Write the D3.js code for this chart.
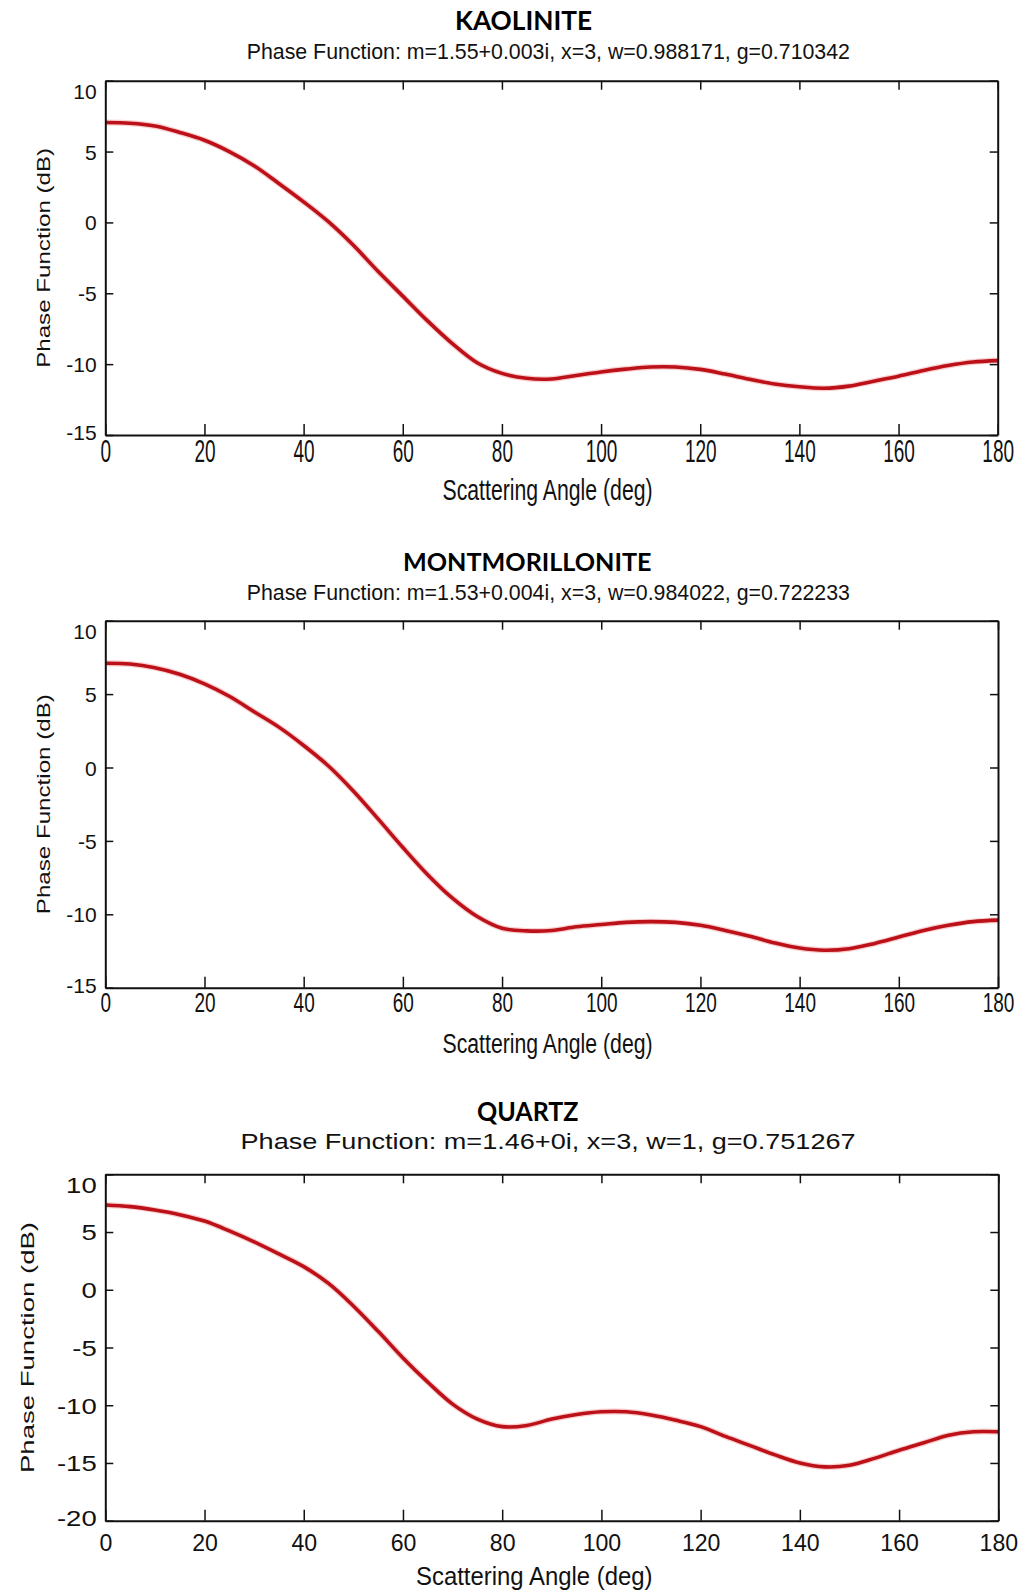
<!doctype html>
<html lang="en">
<head>
<meta charset="utf-8">
<title>Phase Functions</title>
<script src="https://d3js.org/d3.v7.min.js"></script>
<style>
  body { margin: 0; background: #fff; }
  svg { display: block; }
  .axis path, .axis line { stroke: #111; }
  .axis text { fill: #111; font-family: "Liberation Sans", Arial, sans-serif; }
  .lbl { fill: #111; font-family: "Liberation Sans", Arial, sans-serif; }
  .ttl { fill: #000; font-family: Lato, "Open Sans", sans-serif; font-weight: bold; }
</style>
</head>
<body>
<svg id="main" width="1023" height="1591"></svg>
<script>
// scattering angle (deg) sampled every 5 degrees
var angles = [0,5,10,15,20,25,30,35,40,45,50,55,60,65,70,75,80,85,90,95,100,105,110,115,120,125,130,135,140,145,150,155,160,165,170,175,180];

// phase function (dB)
var kaolinite = [7.05,7.0,6.8,6.35,5.8,5.0,4.0,2.75,1.45,0.05,-1.6,-3.45,-5.2,-6.95,-8.55,-9.9,-10.65,-11.0,-11.05,-10.8,-10.55,-10.35,-10.2,-10.2,-10.37,-10.7,-11.07,-11.4,-11.6,-11.7,-11.55,-11.2,-10.85,-10.45,-10.1,-9.85,-9.75];
var montmorillonite = [7.1,7.05,6.8,6.35,5.7,4.85,3.8,2.75,1.5,0.1,-1.6,-3.5,-5.45,-7.3,-8.9,-10.15,-10.95,-11.13,-11.1,-10.85,-10.7,-10.55,-10.5,-10.55,-10.75,-11.1,-11.5,-11.95,-12.3,-12.45,-12.35,-12.0,-11.55,-11.1,-10.75,-10.5,-10.4];
var quartz = [7.34,7.2,6.9,6.5,5.95,5.1,4.15,3.1,2.0,0.55,-1.4,-3.6,-5.9,-8.0,-9.9,-11.2,-11.85,-11.75,-11.2,-10.8,-10.57,-10.57,-10.85,-11.3,-11.85,-12.7,-13.5,-14.3,-15.0,-15.34,-15.2,-14.6,-13.9,-13.25,-12.6,-12.3,-12.3];

var xTicks = [0,20,40,60,80,100,120,140,160,180];
var yTicksA = [-15,-10,-5,0,5,10];
var yTicksB = [-20,-15,-10,-5,0,5,10];

var titles = ["KAOLINITE", "MONTMORILLONITE", "QUARTZ"];
var subtitles = [
  "Phase Function: m=1.55+0.003i, x=3, w=0.988171, g=0.710342",
  "Phase Function: m=1.53+0.004i, x=3, w=0.984022, g=0.722233",
  "Phase Function: m=1.46+0i, x=3, w=1, g=0.751267"
];
var series = [kaolinite, montmorillonite, quartz];
var yLabel = "Phase Function (dB)";
var xLabel = "Scattering Angle (deg)";

// layout of each panel (pixels)
var panels = [
  { top: 80.7, bottom: 435, left: 105.3, right: 997.7, ticks: yTicksA,
    title: [455, 592, 29.5, 27], sub: [246.7, 850, 59.3, 22],
    yl: [43.5, 220, 18], yt: [96.7, 21, 1], xt: [5, 19, 1.0, 1.65], xl: [442.5, 652.6, 500, 29] },
  { top: 620.7, bottom: 987.7, left: 105.3, right: 998, ticks: yTicksA,
    title: [403, 651.5, 570.7, 25], sub: [246.7, 850, 600, 22],
    yl: [43.5, 220, 18], yt: [96.7, 21, 1], xt: [4, 19, 1.0, 1.5], xl: [442.5, 652.6, 1053, 27] },
  { top: 1174.3, bottom: 1520.7, left: 105.3, right: 998.3, ticks: yTicksB,
    title: [477, 578.5, 1120.7, 26], sub: [240.5, 855.6, 1149, 22],
    yl: [27, 251, 19], yt: [96.7, 22, 1.25], xt: [14, 22, 1.05, 1.05], xl: [416, 652.6, 1585, 25] }
];

var svg = d3.select('#main');
var plainNum = function(d) { return String(d); }; // hyphen minus, as in the reference

function fitText(g, str, x0, x1, base, size, cls) {
  return g.append('text').attr('class', cls)
    .attr('x', x0).attr('y', base)
    .attr('font-size', size)
    .attr('textLength', x1 - x0)
    .attr('lengthAdjust', 'spacingAndGlyphs')
    .text(str);
}

panels.forEach(function(p, i) {
  var g = svg.append('g');
  var x = d3.scaleLinear().domain([0, 180]).range([p.left, p.right]);
  var y = d3.scaleLinear().domain([p.ticks[0], 10]).range([p.bottom, p.top]);

  // curve
  var line = d3.line().x(function(d, k) { return x(angles[k]); }).y(function(d) { return y(d); })
    .curve(d3.curveCatmullRom);
  g.append('path').datum(series[i])
    .attr('fill', 'none').attr('stroke', '#f2a0a0').attr('stroke-width', 6).attr('stroke-opacity', 0.5)
    .attr('d', line);
  g.append('path').datum(series[i])
    .attr('fill', 'none').attr('stroke', '#bd111a').attr('stroke-width', 3.6)
    .attr('d', line);

  // box axes with inward ticks, MATLAB style
  var bottomAx = g.append('g').attr('class', 'axis').attr('transform', 'translate(0,' + p.bottom + ')')
    .call(d3.axisBottom(x).tickValues(xTicks).tickSizeInner(-11).tickSizeOuter(0).tickFormat(plainNum));
  bottomAx.selectAll('text')
    .attr('y', null).attr('dy', null)
    .attr('font-size', p.xt[1])
    .attr('transform', 'translate(0,' + (p.xt[0] + 0.716 * p.xt[1] * p.xt[3]) + ') scale(' + p.xt[2] + ',' + p.xt[3] + ')');

  g.append('g').attr('class', 'axis').attr('transform', 'translate(0,' + p.top + ')')
    .call(d3.axisTop(x).tickValues(xTicks).tickSizeInner(-9).tickSizeOuter(0).tickFormat(''));

  var leftAx = g.append('g').attr('class', 'axis').attr('transform', 'translate(' + p.left + ',0)')
    .call(d3.axisLeft(y).tickValues(p.ticks).tickSizeInner(-8).tickSizeOuter(0).tickFormat(plainNum));
  leftAx.selectAll('.tick').each(function(v) {
    // labels at the ends are pushed inside the box as in the reference
    var ty = y(v), cy = Math.max(p.top + 10, Math.min(p.bottom - 3, ty));
    d3.select(this).select('text')
      .attr('x', null).attr('dy', null).attr('y', null)
      .attr('text-anchor', 'end')
      .attr('font-size', p.yt[1])
      .attr('transform', 'translate(' + (p.yt[0] - p.left) + ',' + (cy - ty + 0.358 * p.yt[1]) + ') scale(' + p.yt[2] + ',1)');
  });

  g.append('g').attr('class', 'axis').attr('transform', 'translate(' + p.right + ',0)')
    .call(d3.axisRight(y).tickValues(p.ticks).tickSizeInner(-8).tickSizeOuter(0).tickFormat(''));

  g.selectAll('.axis path').attr('stroke-width', 2);
  g.selectAll('.axis line').attr('stroke-width', 1.5);

  // texts
  fitText(g, titles[i], p.title[0], p.title[1], p.title[2], p.title[3], 'ttl');
  fitText(g, subtitles[i], p.sub[0], p.sub[1], p.sub[2], p.sub[3], 'lbl');
  fitText(g, xLabel, p.xl[0], p.xl[1], p.xl[2], p.xl[3], 'lbl');

  var cy = (p.top + p.bottom) / 2;
  g.append('text').attr('class', 'lbl')
    .attr('transform', 'translate(' + (p.yl[0] + 0.358 * p.yl[2]) + ',' + cy + ') rotate(-90)')
    .attr('x', -p.yl[1] / 2).attr('y', 0)
    .attr('font-size', p.yl[2])
    .attr('textLength', p.yl[1]).attr('lengthAdjust', 'spacingAndGlyphs')
    .text(yLabel);
});
</script>
</body>
</html>
